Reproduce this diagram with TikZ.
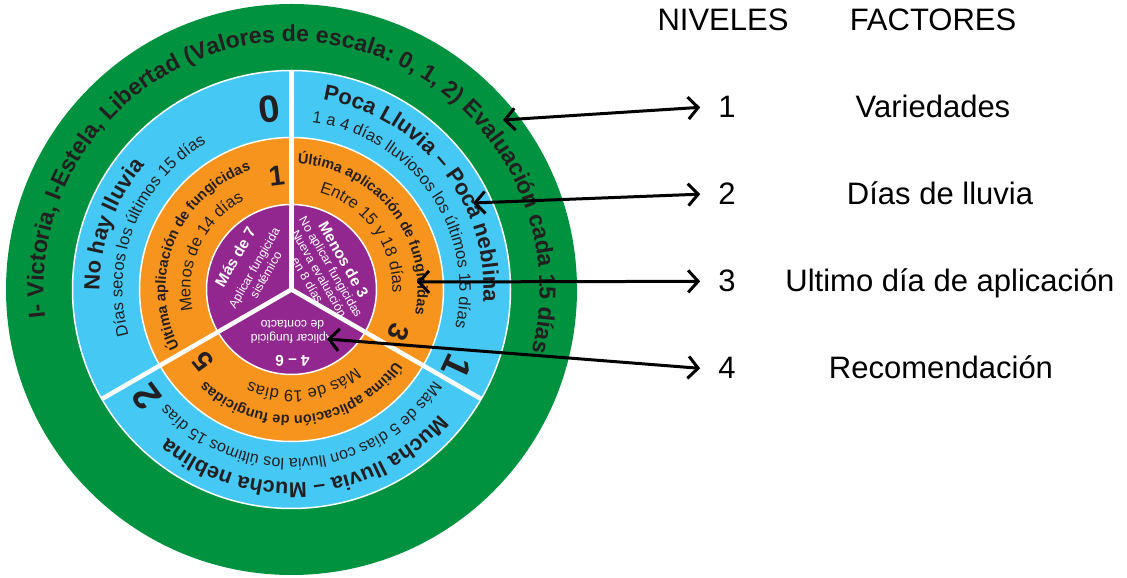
\documentclass[tikz,border=0pt]{standalone}
\usepackage{fontspec}
\setmainfont{Liberation Sans}
\usetikzlibrary{decorations.text,arrows.meta}
\definecolor{ringgreen}{HTML}{00923F}
\definecolor{ringblue}{HTML}{45C8F4}
\definecolor{ringorange}{HTML}{F7941D}
\definecolor{ringpurple}{HTML}{92278F}
\definecolor{ink}{HTML}{231F20}
% curved text: #1 centre angle, #2 baseline radius, #3 format, #4 text
\newcommand{\ringlabel}[4]{\path[decorate,decoration={text along path,text align=center,text color=ink,text={|#3|#4}}]
  ([shift={({#1+118}:#2)}]O) arc[start angle={#1+118},end angle={#1-118},radius=#2];}
\begin{document}
\begin{tikzpicture}[x=1pt,y=1pt,
  bigdigit/.style={font=\bfseries\fontsize{38}{38}\selectfont, text=ink, inner sep=0},
  middigit/.style={font=\bfseries\fontsize{28}{28}\selectfont, text=ink, inner sep=0},
  ptext/.style={text=white, align=center, inner sep=0, font=\fontsize{12.3}{13.5}\selectfont},
  lbl/.style={font=\fontsize{31}{36}\selectfont, text=black, inner sep=0, anchor=base},
  divider/.style={white, line width=4.5pt},
  ringedge/.style={draw=white, line width=1.5pt},
  biarrow/.style={line width=3pt, {Straight Barb[length=10pt,width=22pt]}-{Straight Barb[length=10pt,width=22pt]}}]
\useasboundingbox (0,0) rectangle (1127,578);
\coordinate (O) at (291.5,288.5);
% rings
\fill[ringgreen] (O) circle[radius=285.5pt];
\filldraw[fill=ringblue, ringedge] (O) circle[radius=219pt];
\filldraw[fill=ringorange, ringedge] (O) circle[radius=152pt];
\filldraw[fill=ringpurple, ringedge] (O) circle[radius=85pt];
% dividers
\draw[divider] (O) -- ++(90:219pt);
\draw[divider] (O) -- ++(210:219pt);
\draw[divider] (O) -- ++(330:219pt);
% green ring
\ringlabel{86}{248pt}{\bfseries\fontsize{23.1}{27}\selectfont}{I- Victoria, I-Estela, Libertad (Valores de escala: 0, 1, 2) Evaluación cada 15 días}
% blue ring
\ringlabel{160}{192pt}{\bfseries\fontsize{22}{26}\selectfont}{No hay lluvia}
\ringlabel{158}{169pt}{\fontsize{16.5}{20}\selectfont}{Días secos los últimos 15 días}
\ringlabel{38.5}{192pt}{\bfseries\fontsize{22}{26}\selectfont}{Poca Lluvia – Poca neblina}
\ringlabel{35}{168pt}{\fontsize{16.5}{20}\selectfont}{1 a 4 días lluviosos los últimos 15 días}
\ringlabel{-85}{193pt}{\bfseries\fontsize{21.5}{26}\selectfont}{Mucha lluvia – Mucha neblina}
\ringlabel{-85}{169pt}{\fontsize{16}{20}\selectfont}{Más de 5 días con lluvia los últimos 15 días}
\node[bigdigit, rotate=7] (b0) at ([shift={(97:182pt)}]O) {0};
\node[bigdigit, rotate=-115] (b1) at ([shift={(-25:183pt)}]O) {1};
\node[bigdigit, rotate=126.5] (b2) at ([shift={(216.5:180pt)}]O) {2};
% orange ring
\ringlabel{158}{126pt}{\bfseries\fontsize{14.5}{18}\selectfont}{Última aplicación de fungicidas}
\ringlabel{155}{101pt}{\fontsize{16.5}{20}\selectfont}{Menos de 14 días}
\ringlabel{38}{126pt}{\bfseries\fontsize{14.5}{18}\selectfont}{Última aplicación de fungicidas}
\ringlabel{36}{101pt}{\fontsize{16.5}{20}\selectfont}{Entre 15 y 18 días}
\ringlabel{-84}{126pt}{\bfseries\fontsize{14.5}{18}\selectfont}{Última aplicación de fungicidas}
\ringlabel{-82.5}{101pt}{\fontsize{16.5}{20}\selectfont}{Más de 19 días}
\node[middigit, rotate=7.4] (o1) at ([shift={(97.4:115pt)}]O) {1};
\node[middigit, rotate=-111.6] (o3) at ([shift={(-21.6:115pt)}]O) {3};
\node[middigit, rotate=129.3] (o5) at ([shift={(219.3:114pt)}]O) {5};
% purple centre
\node[ptext, rotate=60] (pA) at ([shift={(150:48pt)}]O)
  {{\bfseries\fontsize{15.5}{17}\selectfont Más de 7}\\[7pt] Aplicar fungicida\\ sistémico};
\node[ptext, rotate=-60] (pB) at ([shift={(30:40pt)}]O)
  {{\bfseries\fontsize{15.5}{17}\selectfont Menos de 3}\\ No aplicar fungicidas\\ Nueva evaluación\\ en 8 días};
\node[ptext, rotate=180] (pC) at ([shift={(-89:54pt)}]O)
  {{\bfseries\fontsize{15.5}{17}\selectfont 4 – 6}\\[8pt] Aplicar fungicid\\ de contacto};
% legend
\node[lbl] (hn) at (723,547) {NIVELES};
\node[lbl] (hf) at (933,547) {FACTORES};
\node[lbl] (n1) at (727,460) {1};
\node[lbl] (f1) at (933,460) {Variedades};
\node[lbl] (n2) at (727,373) {2};
\node[lbl] (f2) at (940,373) {Días de lluvia};
\node[lbl] (n3) at (727,286) {3};
\node[lbl] (f3) at (950,286) {Ultimo día de aplicación};
\node[lbl] (n4) at (727,199) {4};
\node[lbl] (f4) at (941,199) {Recomendación};
% arrows
\coordinate (a1) at (503,458);
\coordinate (a2) at (473,375);
\coordinate (a3) at (417,296);
\coordinate (a4) at (327,239);
\draw[biarrow] (a1) -- ([xshift=-18pt]n1.west);
\draw[biarrow] (a2) -- ([xshift=-18pt]n2.west);
\draw[biarrow] (a3) -- ([xshift=-18pt]n3.west);
\draw[biarrow] (a4) -- ([xshift=-18pt]n4.west);
\end{tikzpicture}
\end{document}
